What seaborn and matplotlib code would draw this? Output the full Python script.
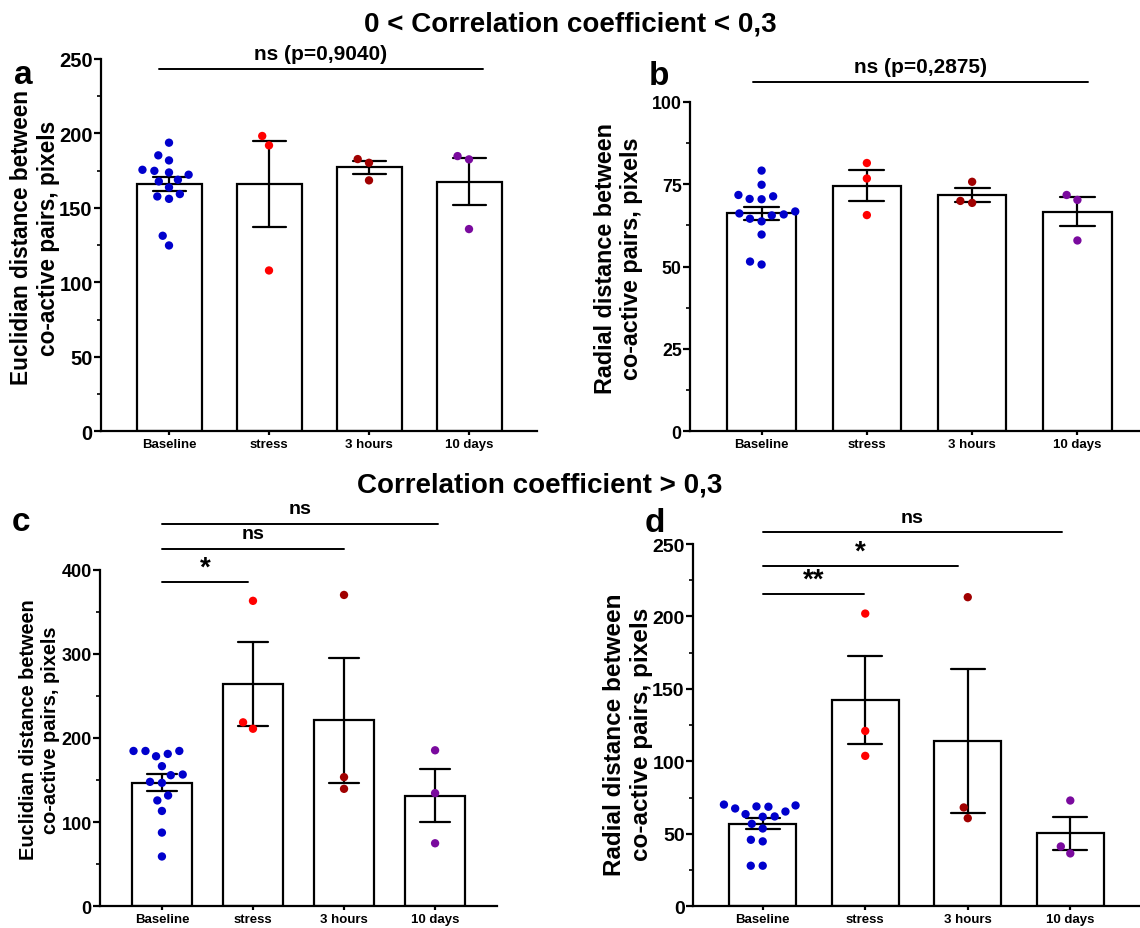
import numpy as np
import pandas as pd
import matplotlib
matplotlib.use("Agg")
import matplotlib.pyplot as plt
from matplotlib.ticker import MultipleLocator
import seaborn as sns

sns.set_style("ticks")
plt.rcParams['font.family'] = ['Liberation Sans', 'DejaVu Sans']
plt.rcParams['font.weight'] = 'bold'
for k in ['text.color', 'axes.labelcolor', 'xtick.color', 'ytick.color', 'axes.edgecolor']:
    plt.rcParams[k] = 'black'

groups = ["Baseline", "stress", "3 hours", "10 days"]
palette = ["#0000cc", "#ff0000", "#a00000", "#7a0a9e"]

# Panel a: Euclidian distance, 0 < r < 0.3
a_baseline = [193.8, 185.3, 181.9, 175.6, 173.8, 172.3, 174.9, 168.9, 167.8,
              163.8, 159.3, 157.7, 156.1, 131.3, 124.8]
a_stress = [198.3, 192.0, 108.0]
a_3h = [182.8, 180.3, 168.5]
a_10d = [184.8, 182.6, 135.8]

# Panel b: Radial distance, 0 < r < 0.3
b_baseline = [79.1, 74.8, 71.3, 71.7, 70.4, 70.5, 66.7, 65.5, 66.1, 65.8,
              64.5, 63.7, 59.7, 51.5, 50.6]
b_stress = [81.4, 76.7, 65.6]
b_3h = [75.7, 69.9, 69.3]
b_10d = [71.7, 70.2, 57.9]

# Panel c: Euclidian distance, r > 0.3
c_baseline = [184.6, 181.1, 184.6, 178.3, 184.6, 166.5, 156.6, 155.8, 146.7,
              147.9, 131.7, 125.8, 113.3, 87.6, 59.2]
c_stress = [363.0, 218.6, 211.0]
c_3h = [370.0, 153.5, 139.6]
c_10d = [185.4, 134.5, 74.9]

# Panel d: Radial distance, r > 0.3
d_baseline = [65.4, 69.6, 68.7, 67.5, 70.2, 68.9, 63.6, 62.0, 61.8, 56.9,
              53.7, 45.9, 44.8, 28.0, 28.0]
d_stress = [202.0, 121.0, 103.8]
d_3h = [213.3, 68.2, 60.8]
d_10d = [73.0, 41.3, 36.5]

ylabel_euc = "Euclidian distance between\nco-active pairs, pixels"
ylabel_rad = "Radial distance between\nco-active pairs, pixels"


def make_df(*series):
    rows = []
    for g, vals in zip(groups, series):
        for v in vals:
            rows.append((g, v))
    return pd.DataFrame(rows, columns=["group", "value"])


W, H = 1140, 929
fig = plt.figure(figsize=(W / 100, H / 100), dpi=100)

panels = [
    dict(df=make_df(a_baseline, a_stress, a_3h, a_10d), rect=[101, 60, 537, 432.3],
         ylim=250, major=50, minor=25, ylabel=ylabel_euc, lfs=16.3,
         lpos=(-0.094, 0.522), tfs=14.5),
    dict(df=make_df(b_baseline, b_stress, b_3h, b_10d), rect=[690, 102.7, 1149, 432.3],
         ylim=100, major=25, minor=12.5, ylabel=ylabel_rad, lfs=16.8,
         lpos=(-0.102, 0.526), tfs=12.8),
    dict(df=make_df(c_baseline, c_stress, c_3h, c_10d), rect=[100, 570.7, 497, 907.3],
         ylim=400, major=100, minor=50, ylabel=ylabel_euc, lfs=14.4,
         lpos=(-0.10, 0.527), tfs=13),
    dict(df=make_df(d_baseline, d_stress, d_3h, d_10d), rect=[693, 545, 1140, 907.3],
         ylim=250, major=50, minor=25, ylabel=ylabel_rad, lfs=17.5,
         lpos=(-0.0895, 0.476), tfs=14),
]

axes = []
for p in panels:
    x0, y0, x1, y1 = p["rect"]
    ax = fig.add_axes([x0 / W, 1 - y1 / H, (x1 - x0) / W, (y1 - y0) / H])
    df = p["df"]
    sns.barplot(data=df, x="group", y="value", order=groups, errorbar="se",
                capsize=0.33, width=0.65, color="white", edgecolor="black",
                linewidth=1.6, err_kws={"color": "black", "linewidth": 1.6},
                ax=ax, zorder=1)
    sns.swarmplot(data=df, x="group", y="value", order=groups, hue="group",
                  hue_order=groups, palette=palette, size=6, legend=False,
                  ax=ax, zorder=3, linewidth=2.2, edgecolor=(0, 0, 0, 0))
    ax.set_xlim(-0.68, 3.68)
    ax.set_ylim(0, p["ylim"])
    ax.yaxis.set_major_locator(MultipleLocator(p["major"]))
    ax.yaxis.set_minor_locator(MultipleLocator(p["minor"]))
    for side in ["top", "right"]:
        ax.spines[side].set_visible(False)
    for side in ["left", "bottom"]:
        ax.spines[side].set_linewidth(1.6)
        ax.spines[side].set_color("black")
    ax.tick_params(axis="y", which="major", length=5, width=1.6, labelsize=p["tfs"], pad=1)
    ax.tick_params(axis="y", which="minor", length=3, width=1.2)
    ax.tick_params(axis="x", which="major", length=3, width=1.6, labelsize=9.5, pad=2)
    for lbl in ax.get_xticklabels() + ax.get_yticklabels():
        lbl.set_fontweight("bold")
    ax.set_xlabel("")
    ax.set_ylabel(p["ylabel"], fontsize=p["lfs"], fontweight="bold")
    ax.yaxis.set_label_coords(*p["lpos"])
    axes.append(ax)

ax_a, ax_b, ax_c, ax_d = axes


def bracket(ax, x0, x1, y, text, fs, dy):
    ax.plot([x0, x1], [y, y], color="black", lw=1.4, clip_on=False)
    ax.text((x0 + x1) / 2, y + dy, text, ha="center", va="bottom",
            fontsize=fs, fontweight="bold", clip_on=False)


bracket(ax_a, -0.1, 3.14, 243.3, "ns (p=0,9040)", 15, 4)
bracket(ax_b, -0.08, 3.10, 106.0, "ns (p=0,2875)", 15, 1.8)

bracket(ax_c, 0.0, 0.95, 385.4, "*", 20, 2)
bracket(ax_c, 0.0, 2.0, 424.6, "ns", 14, 8)
bracket(ax_c, 0.0, 3.03, 454.3, "ns", 14, 8)

bracket(ax_d, 0.0, 0.99, 215.5, "**", 20, 1)
bracket(ax_d, 0.0, 1.9, 234.8, "*", 20, 1)
bracket(ax_d, 0.0, 2.92, 258.3, "ns", 14, 4)

fig.text(0.5, 1 - 32 / H, "0 < Correlation coefficient < 0,3", ha="center",
         va="baseline", fontsize=20, fontweight="bold")
fig.text(540 / W, 1 - 493 / H, "Correlation coefficient > 0,3", ha="center",
         va="baseline", fontsize=20, fontweight="bold")

for lab, x, y in [("a", 14, 84), ("b", 649, 85), ("c", 12, 531), ("d", 645, 532)]:
    fig.text(x / W, 1 - y / H, lab, ha="left", va="baseline", fontsize=24,
             fontweight="bold")

fig.savefig("out.png", dpi=100)
